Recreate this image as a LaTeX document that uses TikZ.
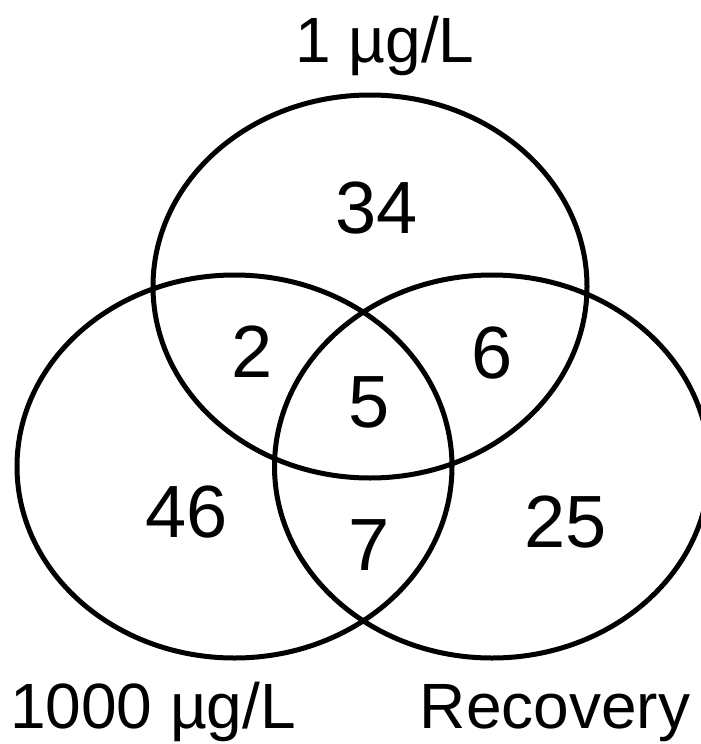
\documentclass[tikz,border=0pt]{standalone}
\usepackage{fontspec}
\setmainfont{Liberation Sans}
\begin{document}
\begin{tikzpicture}[x=1pt,y=-1pt,
  venn/.style={draw=black,line width=5pt},
  num/.style={inner sep=0pt,anchor=base,font=\fontsize{74}{74}\selectfont},
  lab/.style={inner sep=0pt,anchor=base,font=\fontsize{64}{64}\selectfont}]
\useasboundingbox (0,0) rectangle (701,744);
\draw[venn] (370,286.5) ellipse [x radius=217,y radius=191.5];
\draw[venn] (234.5,466.5) ellipse [x radius=217.5,y radius=191.5];
\draw[venn] (492,466.5) ellipse [x radius=217.5,y radius=191.5];
\node[num] (n34) at (377,233) {34};
\node[num] (n2) at (252,377) {2};
\node[num] (n6) at (492,378) {6};
\node[num] (n5) at (369,427) {5};
\node[num] (n46) at (187,537) {46};
\node[num] (n7) at (369,570) {7};
\node[num] (n25) at (566,547) {25};
\node[lab] (ltop) at (385,62) {1 µg/L};
\node[lab] (lleft) at (153,728) {1000 µg/L};
\node[lab] (lright) at (555,728) {Recovery};
\end{tikzpicture}
\end{document}
